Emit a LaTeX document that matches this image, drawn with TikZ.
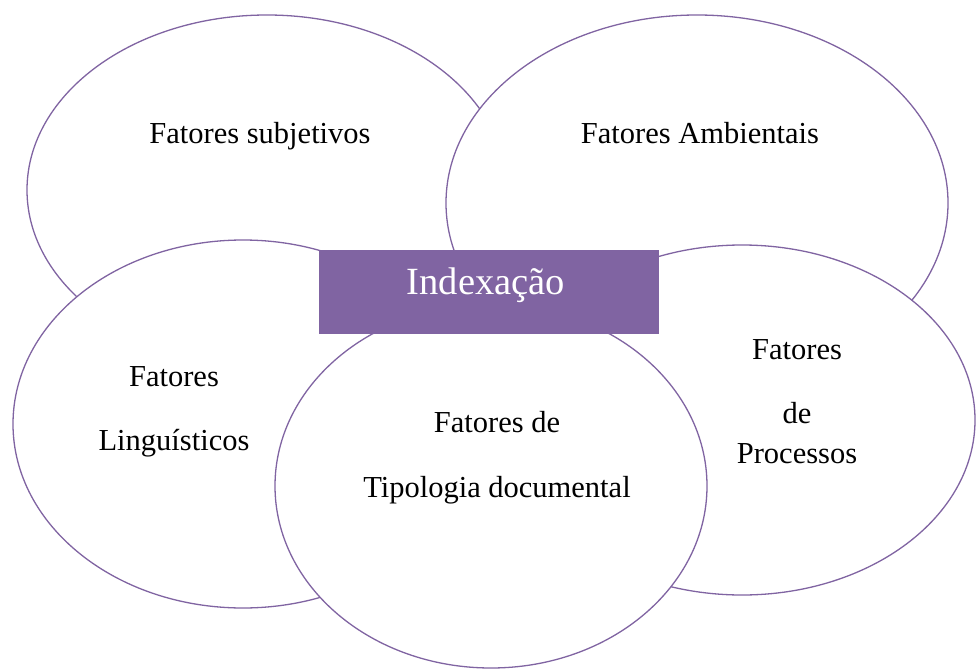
\documentclass[tikz,border=0pt]{standalone}
\usepackage{fontspec}
\setmainfont{Liberation Serif}
\usetikzlibrary{shapes.geometric}
\definecolor{accpurple}{RGB}{128,100,162}
\begin{document}
\begin{tikzpicture}[x=1pt,y=-1pt,
  oval/.style={ellipse, draw=accpurple, line width=1.3pt, fill=white, inner sep=0pt},
  lbl/.style={anchor=base, font=\fontsize{30.5}{36}\selectfont, text=black, inner sep=0pt},
  headbox/.style={rectangle, fill=accpurple, inner sep=0pt, minimum width=340pt, minimum height=84pt},
  headtext/.style={anchor=base, font=\fontsize{38.5}{44}\selectfont, text=white, inner sep=0pt}]
\useasboundingbox (0,0) rectangle (976,669);
% ellipses in stacking order
\node[oval, minimum width=480pt, minimum height=350pt] (subj) at (267,190) {};
\node[oval, minimum width=502pt, minimum height=376pt] (amb) at (697,203) {};
\node[oval, minimum width=460pt, minimum height=368pt] (ling) at (243,424) {};
\node[oval, minimum width=466pt, minimum height=350pt] (proc) at (742,420) {};
\node[oval, minimum width=432pt, minimum height=364pt] (tipo) at (491,486) {};
% central box
\node[headbox] (box) at (489,292) {};
\node[headtext] (boxtext) at (486,294) {Indexação};
% labels
\node[lbl] (subjt) at (260,143) {Fatores subjetivos};
\node[lbl] (ambt) at (700,143) {Fatores Ambientais};
\node[lbl] (lingt1) at (174,386) {Fatores};
\node[lbl] (lingt2) at (174,450) {Linguísticos};
\node[lbl] (tipot1) at (497,432) {Fatores de};
\node[lbl] (tipot2) at (497,497) {Tipologia documental};
\node[lbl] (proct1) at (797,359) {Fatores};
\node[lbl] (proct2) at (797,423) {de};
\node[lbl] (proct3) at (797,463) {Processos};
\end{tikzpicture}
\end{document}
